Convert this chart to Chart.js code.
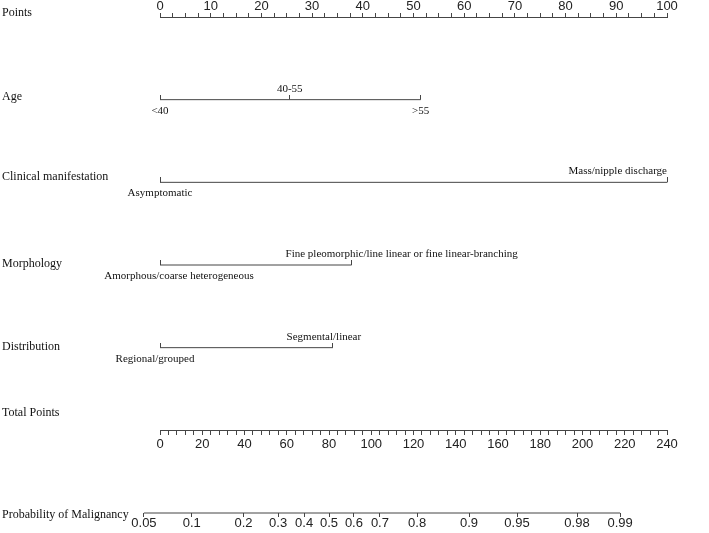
<!DOCTYPE html>
<html>
<head>
<meta charset="utf-8">
<script src="https://cdn.jsdelivr.net/npm/chart.js@4.4.1/dist/chart.umd.min.js"></script>
<style>
  html, body { margin: 0; padding: 0; background: #fff; }
</style>
</head>
<body>
<canvas id="nomo" width="709" height="533"></canvas>
<script>
// ---- data ----
const rowNames = ["Points", "Age", "Clinical manifestation", "Morphology", "Distribution", "Total Points", "Probability of Malignancy"];

const pointsTicks = [0, 10, 20, 30, 40, 50, 60, 70, 80, 90, 100];
const pointsMinorStep = 2.5;
const totalTicks = [0, 20, 40, 60, 80, 100, 120, 140, 160, 180, 200, 220, 240];
const totalMinorStep = 4;

const ageLevels = ["<40", "40-55", ">55"];
const agePoints = [0, 25.6, 51.4];
const clinicalLevels = ["Asymptomatic", "Mass/nipple discharge"];
const clinicalPoints = [0, 100];
const morphologyLevels = ["Amorphous/coarse heterogeneous", "Fine pleomorphic/line linear or fine linear-branching"];
const morphologyPoints = [0, 37.8];
const distributionLevels = ["Regional/grouped", "Segmental/linear"];
const distributionPoints = [0, 34.1];

const probLabels = ["0.05", "0.1", "0.2", "0.3", "0.4", "0.5", "0.6", "0.7", "0.8", "0.9", "0.95", "0.98", "0.99"];
const probTotalPoints = [-7.6, 15.0, 39.5, 55.9, 68.2, 80.0, 91.8, 104.1, 121.7, 146.3, 169.0, 197.4, 217.8];

// ---- layout (not data) ----
const rowY = [0, 1, 2, 3, 4, 5, 6];
const rowNameDy = [-4, -3, -5, -1, -1, -17, 2];
const lineColor = "#454545";
const serif = '"Liberation Serif", "Times New Roman", serif';
const sans = '"Liberation Sans", Arial, sans-serif';

const factorRows = [
  { row: 1, levels: ageLevels, points: agePoints,
    place: [{ side: "below" }, { side: "above" }, { side: "below" }] },
  { row: 2, levels: clinicalLevels, points: clinicalPoints,
    place: [{ side: "below" }, { side: "above", align: "right" }] },
  { row: 3, levels: morphologyLevels, points: morphologyPoints,
    place: [{ side: "below", dx: 19 }, { side: "above", dx: 50 }] },
  { row: 4, levels: distributionLevels, points: distributionPoints,
    place: [{ side: "below", dx: -5 }, { side: "above", dx: -9 }] }
];

// small upward tick used as point marker on the factor rows
const tickMark = document.createElement("canvas");
tickMark.width = 1;
tickMark.height = 10;
const tctx = tickMark.getContext("2d");
tctx.fillStyle = lineColor;
tctx.fillRect(0, 0, 1, 5);

function withMinor(major, step) {
  const out = [];
  const last = major[major.length - 1];
  for (let v = major[0]; v <= last + 1e-9; v += step) out.push(+v.toFixed(4));
  return out;
}

const datasets = factorRows.map((r) => ({
  type: "line",
  data: r.points.map((p) => ({ x: p, y: rowY[r.row] })),
  borderColor: lineColor,
  borderWidth: 1,
  pointStyle: tickMark,
  pointRadius: 3,
  clip: false
}));
datasets.push({
  type: "line",
  xAxisID: "xp",
  data: [
    { x: probTotalPoints[0], y: rowY[6] },
    { x: probTotalPoints[probTotalPoints.length - 1], y: rowY[6] }
  ],
  borderColor: lineColor,
  borderWidth: 1,
  pointRadius: 0,
  clip: false
});

const textPlugin = {
  id: "nomoText",
  afterDraw(chart) {
    const { ctx } = chart;
    const x = chart.scales.x;
    const y = chart.scales.y;
    ctx.save();
    ctx.fillStyle = "#111";
    ctx.textBaseline = "middle";
    ctx.textAlign = "left";
    ctx.font = "12px " + serif;
    rowNames.forEach((name, i) => {
      ctx.fillText(name, 2, y.getPixelForValue(rowY[i]) + rowNameDy[i]);
    });
    ctx.font = "11px " + serif;
    factorRows.forEach((r) => {
      const py = y.getPixelForValue(rowY[r.row]);
      r.levels.forEach((lv, j) => {
        const pl = r.place[j];
        ctx.textAlign = pl.align || "center";
        ctx.fillText(lv, x.getPixelForValue(r.points[j]) + (pl.dx || 0), py + (pl.side === "above" ? -11 : 11));
      });
    });
    ctx.restore();
  }
};

const tickFont = { family: sans, size: 13, lineHeight: 1 };
const gridOpts = { drawOnChartArea: false, tickLength: 4, color: lineColor, tickColor: lineColor };

new Chart(document.getElementById("nomo"), {
  type: "line",
  data: { datasets },
  options: {
    responsive: false,
    animation: false,
    events: [],
    layout: { padding: { left: 160, right: 42, top: 0, bottom: 3 } },
    plugins: { legend: { display: false }, tooltip: { enabled: false } },
    scales: {
      y: { type: "linear", display: false, min: 0, max: 6, reverse: true },
      x: {
        type: "linear", position: "top", min: 0, max: 100,
        grid: gridOpts,
        border: { display: true, color: lineColor, width: 1 },
        afterBuildTicks: (s) => { s.ticks = withMinor(pointsTicks, pointsMinorStep).map((v) => ({ value: v })); },
        ticks: {
          autoSkip: false, maxRotation: 0, minRotation: 0, padding: 0,
          color: "#222", font: tickFont,
          callback: (v) => (pointsTicks.includes(v) ? String(v) : "")
        }
      },
      xt: {
        type: "linear", position: { y: rowY[5] }, min: 0, max: 240,
        grid: gridOpts,
        border: { display: true, color: lineColor, width: 1 },
        afterBuildTicks: (s) => { s.ticks = withMinor(totalTicks, totalMinorStep).map((v) => ({ value: v })); },
        ticks: {
          autoSkip: false, maxRotation: 0, minRotation: 0, padding: 4,
          color: "#222", font: tickFont,
          callback: (v) => (totalTicks.includes(v) ? String(v) : "")
        }
      },
      xp: {
        type: "linear", position: "bottom", min: 0, max: 240,
        grid: gridOpts,
        border: { display: false },
        afterBuildTicks: (s) => { s.ticks = probTotalPoints.map((v) => ({ value: v })); },
        ticks: {
          autoSkip: false, maxRotation: 0, minRotation: 0, padding: 0,
          color: "#222", font: tickFont,
          callback: (v, i) => probLabels[i]
        }
      }
    }
  },
  plugins: [textPlugin]
});
</script>
</body>
</html>
